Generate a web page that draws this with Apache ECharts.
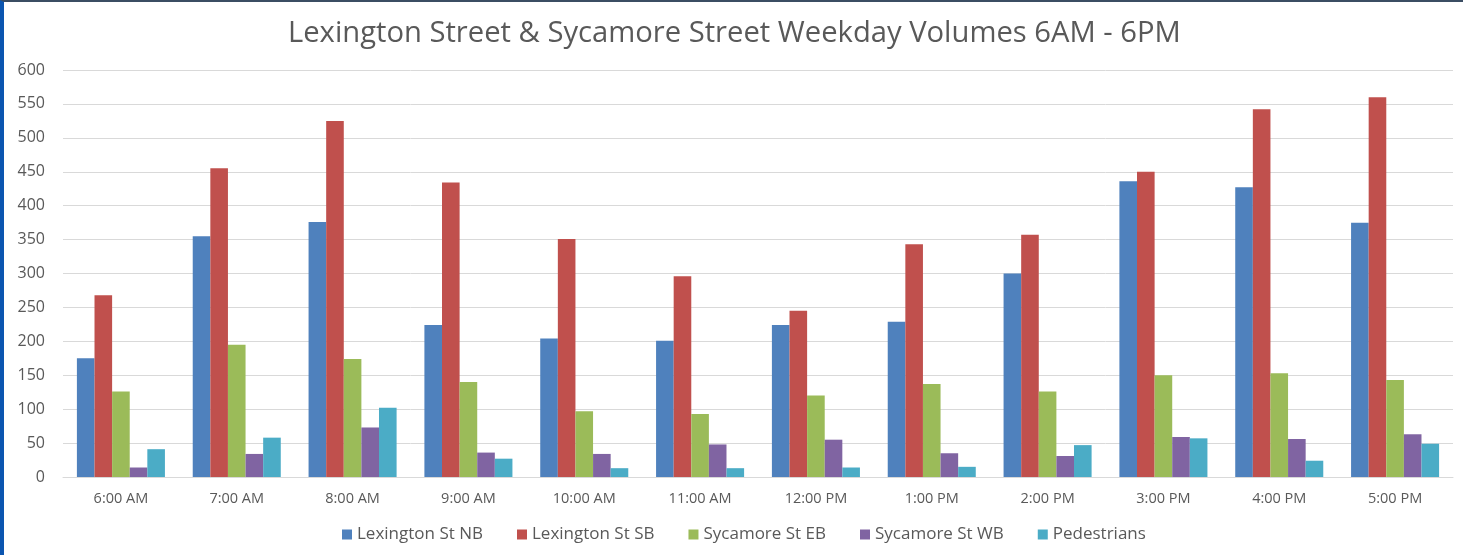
<!DOCTYPE html>
<html>
<head>
<meta charset="utf-8">
<script src="https://cdn.jsdelivr.net/npm/echarts@6/dist/echarts.min.js"></script>
<style>
  html, body { margin: 0; padding: 0; background: #ffffff; }
  #frame { position: relative; width: 1463px; height: 555px; box-sizing: border-box;
           border-left: 4px solid #0b55b0; border-top: 2px solid #3b4d63; background: #fff; }
  #chart { position: absolute; left: -4px; top: -2px; width: 1463px; height: 555px; }
</style>
</head>
<body>
<div id="frame"><div id="chart"></div></div>
<script>
const categories = ['6:00 AM', '7:00 AM', '8:00 AM', '9:00 AM', '10:00 AM', '11:00 AM',
  '12:00 PM', '1:00 PM', '2:00 PM', '3:00 PM', '4:00 PM', '5:00 PM'];
const lexNB = [175, 355, 376, 224, 204, 201, 224, 229, 300, 436, 427, 375];
const lexSB = [268, 455, 525, 434, 351, 296, 245, 343, 357, 450, 542, 560];
const sycEB = [126, 195, 174, 140, 97, 93, 120, 137, 126, 150, 153, 143];
const sycWB = [14, 34, 73, 36, 34, 48, 55, 35, 31, 59, 56, 63];
const peds = [41, 58, 102, 27, 13, 13, 14, 15, 47, 57, 24, 49];

const seriesNames = ['Lexington St NB', 'Lexington St SB', 'Sycamore St EB', 'Sycamore St WB', 'Pedestrians'];
const seriesData = [lexNB, lexSB, sycEB, sycWB, peds];
const colors = ['#4f81bd', '#c0504d', '#9bbb59', '#8064a2', '#4bacc6'];

const textFont = "'Open Sans', 'Noto Sans', sans-serif";
const chart = echarts.init(document.getElementById('chart'));
chart.setOption({
  animation: false,
  color: colors,
  title: {
    text: 'Lexington Street & Sycamore Street Weekday Volumes 6AM - 6PM',
    left: 283,
    top: 14,
    textStyle: { fontFamily: textFont, fontSize: 29.2, fontWeight: 'normal', color: '#595959' }
  },
  legend: {
    bottom: 7,
    left: 337,
    icon: 'rect',
    itemWidth: 10,
    itemHeight: 10,
    itemGap: 34,
    textStyle: { fontFamily: textFont, fontSize: 17, color: '#595959' },
    data: seriesNames
  },
  grid: { left: 63, right: 10, top: 70, bottom: 78 },
  xAxis: {
    type: 'category',
    data: categories,
    axisTick: { show: false },
    axisLine: { lineStyle: { color: '#d9d9d9', width: 1 } },
    axisLabel: { fontFamily: textFont, fontSize: 14.5, color: '#595959', margin: 14 }
  },
  yAxis: {
    type: 'value',
    min: 0,
    max: 600,
    interval: 50,
    axisLine: { show: false },
    axisTick: { show: false },
    splitLine: { lineStyle: { color: '#d9d9d9', width: 1 } },
    axisLabel: { fontFamily: textFont, fontSize: 16, color: '#595959', margin: 18 }
  },
  series: seriesNames.map((name, i) => ({
    name: name,
    type: 'bar',
    data: seriesData[i],
    barGap: '0%',
    barCategoryGap: '24%',
    itemStyle: { color: colors[i] }
  }))
});
</script>
</body>
</html>
